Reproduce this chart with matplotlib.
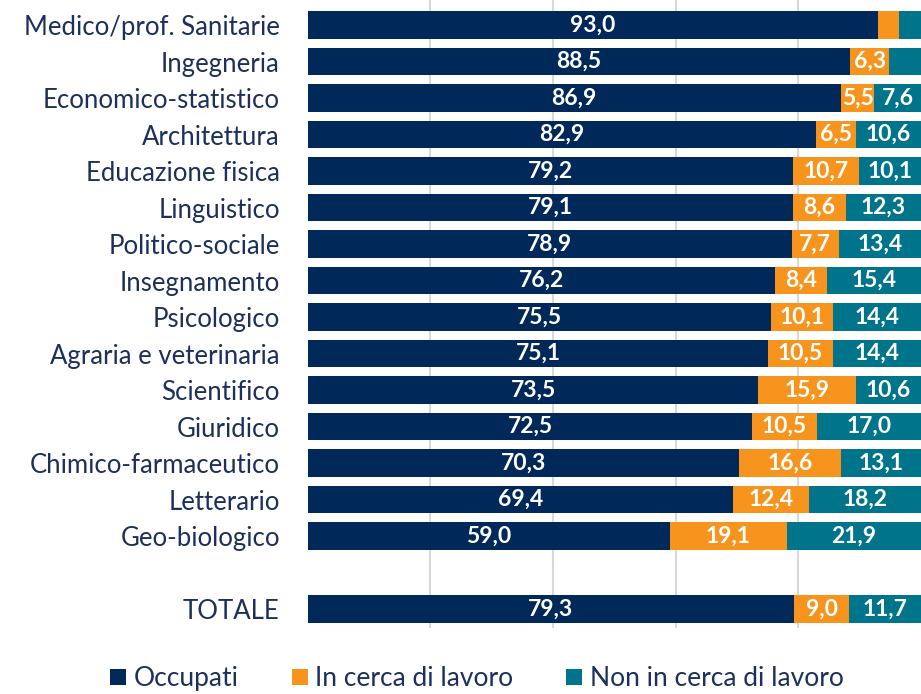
import numpy as np
import matplotlib
matplotlib.use("Agg")
import matplotlib.pyplot as plt

plt.rcParams['font.family'] = ['Lato', 'DejaVu Sans']

# dati
categorie = ['Medico/prof. Sanitarie', 'Ingegneria', 'Economico-statistico', 'Architettura',
             'Educazione fisica', 'Linguistico', 'Politico-sociale', 'Insegnamento',
             'Psicologico', 'Agraria e veterinaria', 'Scientifico', 'Giuridico',
             'Chimico-farmaceutico', 'Letterario', 'Geo-biologico', 'TOTALE']
occupati = [93.0, 88.5, 86.9, 82.9, 79.2, 79.1, 78.9, 76.2, 75.5, 75.1, 73.5, 72.5, 70.3, 69.4, 59.0, 79.3]
in_cerca = [3.4, 6.3, 5.5, 6.5, 10.7, 8.6, 7.7, 8.4, 10.1, 10.5, 15.9, 10.5, 16.6, 12.4, 19.1, 9.0]
non_cerca = [3.6, 5.2, 7.6, 10.6, 10.1, 12.3, 13.4, 15.4, 14.4, 14.4, 10.6, 17.0, 13.1, 18.2, 21.9, 11.7]
serie = ['Occupati', 'In cerca di lavoro', 'Non in cerca di lavoro']
colori = ['#002858', '#f7941d', '#00748a']

# posizioni: riga vuota prima del totale
pos = list(range(15)) + [16]

fig = plt.figure(figsize=(9.21, 6.94), dpi=100)
ax = fig.add_axes([0.334, 0.095, 0.666, 0.905])

left = np.zeros(len(pos))
for vals, col, nome in zip([occupati, in_cerca, non_cerca], colori, serie):
    vals = np.array(vals)
    ax.barh(pos, vals, left=left, height=0.75, color=col, label=nome, zorder=2)
    for y, l, v in zip(pos, left, vals):
        # le etichette troppo piccole non vengono mostrate
        if v < 5.5:
            continue
        ax.text(l + v / 2, y, f'{v:.1f}'.replace('.', ','), ha='center', va='center',
                color='white', fontsize=16.5, fontweight='bold', zorder=3)
    left += vals

ax.set_xlim(0, 100)
ax.set_ylim(16.52, -0.685)
ax.set_xticks([20, 40, 60, 80])
ax.xaxis.grid(True, color='#d9d9d9', linewidth=1.5, zorder=0)
ax.tick_params(axis='x', length=0, labelbottom=False)
ax.tick_params(axis='y', length=0, pad=20)
ax.set_yticks(pos)
ax.set_yticklabels(categorie, fontsize=18.5, color='#1f2f5c')
for s in ax.spines.values():
    s.set_visible(False)

fig.legend(loc='center', bbox_to_anchor=(0.518, 0.022), ncol=3, frameon=False,
           fontsize=19, handlelength=0.6, handleheight=0.6, columnspacing=2.0,
           handletextpad=0.3, labelcolor='#1f2f5c')

fig.savefig('out.png', dpi=100)
